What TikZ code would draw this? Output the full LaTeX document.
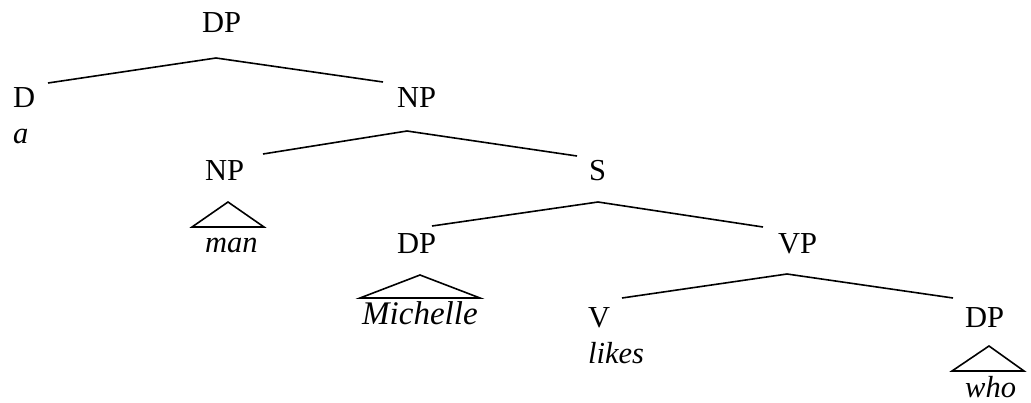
\documentclass[tikz,border=0pt]{standalone}
\usepackage{fontspec}
\setmainfont{Liberation Serif}
\begin{document}
\begin{tikzpicture}[x=1pt,y=-1pt,
  lbl/.style={anchor=base west,inner sep=0pt,font=\fontsize{30.5}{34}\selectfont},
  word/.style={lbl,font=\fontsize{30.5}{34}\selectfont\itshape},
  branch/.style={line width=1.6pt,line join=miter},
  roof/.style={line width=1.6pt,line join=miter}]
\useasboundingbox (0,0) rectangle (1031,402);

% category labels and words
\node[lbl]  (dp1)  at (202,32)  {DP};
\node[lbl]  (d)    at (13,107)  {D};
\node[word] (a)    at (13,143)  {a};
\node[lbl]  (np1)  at (397,107) {NP};
\node[lbl]  (np2)  at (205,180) {NP};
\node[word] (man)  at (205,252) {man};
\node[lbl]  (s)    at (589,180) {S};
\node[lbl]  (dp2)  at (397,253) {DP};
\node[word,font=\fontsize{33}{36}\selectfont\itshape] (mich) at (362,324) {Michelle};
\node[lbl]  (vp)   at (778,253) {VP};
\node[lbl]  (v)    at (588,327) {V};
\node[word] (likes) at (588,363) {likes};
\node[lbl]  (dp3)  at (965,327) {DP};
\node[word] (who)  at (965,397) {who};

% branching points below mothers, attachment points above daughters
\coordinate (dp1-b) at (216,58);
\coordinate (d-t)   at (48,83);
\coordinate (np1-t) at (383,82);
\coordinate (np1-b) at (407,131);
\coordinate (np2-t) at (263,154);
\coordinate (s-t)   at (577,156);
\coordinate (s-b)   at (598,202);
\coordinate (dp2-t) at (432,226);
\coordinate (vp-t)  at (763,227);
\coordinate (vp-b)  at (787,274);
\coordinate (v-t)   at (622,298);
\coordinate (dp3-t) at (953,298);

\draw[branch] (d-t) -- (dp1-b) -- (np1-t);
\draw[branch] (np2-t) -- (np1-b) -- (s-t);
\draw[branch] (dp2-t) -- (s-b) -- (vp-t);
\draw[branch] (v-t) -- (vp-b) -- (dp3-t);

% triangles over unanalysed constituents
\coordinate (np2-r) at (228,202);
\coordinate (dp2-r) at (420,275);
\coordinate (dp3-r) at (989,346);
\draw[roof] (np2-r) -- (192,227) -- (264,227) -- cycle;
\draw[roof] (dp2-r) -- (360,298) -- (480,298) -- cycle;
\draw[roof] (dp3-r) -- (952,371) -- (1024,371) -- cycle;
\end{tikzpicture}
\end{document}
